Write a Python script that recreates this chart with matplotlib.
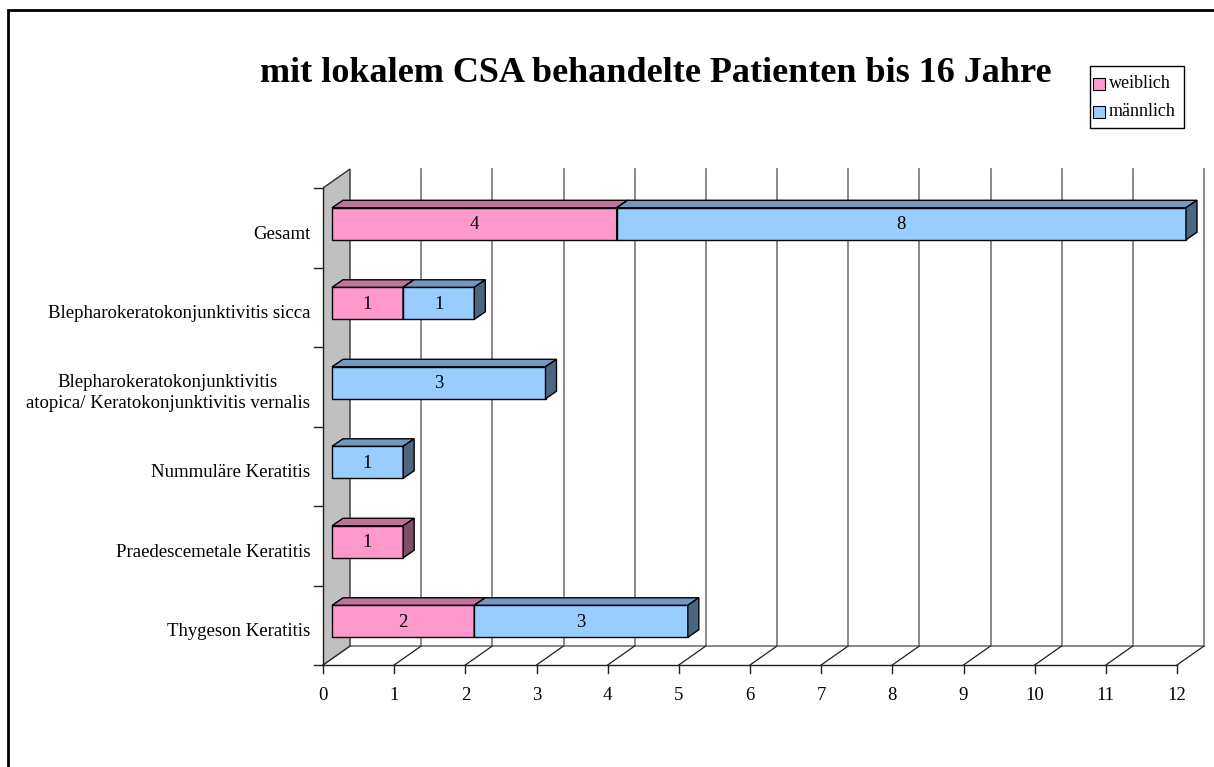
import numpy as np
import matplotlib.pyplot as plt
from matplotlib.patches import Polygon, Rectangle

# data (top of chart first in the picture -> bottom in list order here)
categories = ["Thygeson Keratitis",
              "Praedescemetale Keratitis",
              "Nummuläre Keratitis",
              "Blepharokeratokonjunktivitis\natopica/ Keratokonjunktivitis vernalis",
              "Blepharokeratokonjunktivitis sicca",
              "Gesamt"]
weiblich = [2, 1, 0, 0, 1, 4]
maennlich = [3, 0, 1, 3, 1, 8]
series_names = ["weiblich", "männlich"]
x_ticks = list(range(0, 13))

title = "mit lokalem CSA behandelte Patienten bis 16 Jahre"

plt.rcParams['font.family'] = ['Liberation Serif', 'DejaVu Serif']

W, H = 1214, 767
fig = plt.figure(figsize=(W / 100, H / 100), dpi=100)

# pixel geometry of the front plane
px0, px12 = 323, 1177          # x=0 and x=12 on the front floor edge
py_bot, py_top = 665, 188      # front bottom / top of category range
ux = (px12 - px0) / 12.0
uy = (py_bot - py_top) / 6.0
ax_right, ax_top = 1212, 160
ax = fig.add_axes([px0 / W, (H - py_bot) / H, (ax_right - px0) / W, (py_bot - ax_top) / H])
ax.set_xlim(0, (ax_right - px0) / ux)
ax.set_ylim(0, (py_bot - ax_top) / uy)
ax.axis('off')

# oblique depth (data units)
ddx, ddy = 27 / ux, 19 / uy
xmax = 12
ncat = len(categories)
fs = 13.5

grid_c = '#808080'
# left wall
wall = Polygon([(0, 0), (ddx, ddy), (ddx, ncat + ddy), (0, ncat)], closed=True,
               facecolor='#c0c0c0', edgecolor='#303030', lw=1, zorder=1)
ax.add_patch(wall)
# back wall gridlines
for k in range(1, xmax + 1):
    ax.plot([k + ddx, k + ddx], [ddy, ncat + ddy], color=grid_c, lw=1.3, zorder=0.5)
# floor
ax.plot([ddx, xmax + ddx], [ddy, ddy], color=grid_c, lw=1.3, zorder=0.5)
for k in range(0, xmax + 1):
    ax.plot([k, k + ddx], [0, ddy], color='#202020', lw=0.9, zorder=0.6, clip_on=False)

# axis lines and ticks
ax.plot([0, xmax], [0, 0], color='#202020', lw=1, zorder=2, clip_on=False)
ax.plot([0, 0], [0, ncat], color='#202020', lw=1, zorder=2, clip_on=False)
for k in x_ticks:
    ax.plot([k, k], [0, -8 / uy], color='#202020', lw=1, zorder=2, clip_on=False)
    ax.text(k, -30 / uy, str(k), ha='center', va='center', fontsize=fs, clip_on=False)
for i in range(ncat + 1):
    ax.plot([0, -9 / ux], [i, i], color='#202020', lw=1, zorder=2, clip_on=False)
for i, name in enumerate(categories):
    ax.text(-13 / ux, i + 0.42, name, ha='right', va='center', fontsize=fs,
            multialignment='center', linespacing=1.3, clip_on=False)

# 3d-looking bars
f0 = 9 / 27.0
bdx, bdy = 11 / ux, 7.5 / uy
bh = 32 / uy
colors = [('#ff99cc', '#c0739a', '#804d66'), ('#99ccff', '#7399bf', '#4d6680')]


def draw_bar(x0, w, yc, cols, label):
    xs = x0 + f0 * ddx
    yb = yc - bh / 2
    front, top, side = cols
    ax.add_patch(Rectangle((xs, yb), w, bh, facecolor=front, edgecolor='black', lw=1, zorder=3))
    ax.add_patch(Polygon([(xs, yb + bh), (xs + bdx, yb + bh + bdy), (xs + w + bdx, yb + bh + bdy),
                          (xs + w, yb + bh)], closed=True, facecolor=top, edgecolor='black', lw=1, zorder=3))
    ax.add_patch(Polygon([(xs + w, yb), (xs + w + bdx, yb + bdy), (xs + w + bdx, yb + bh + bdy),
                          (xs + w, yb + bh)], closed=True, facecolor=side, edgecolor='black', lw=1, zorder=3))
    ax.text(xs + w / 2, yc - 0.01, label, ha='center', va='center', fontsize=fs, zorder=4)


for i in range(ncat):
    yc = i + 0.55
    left = 0
    for vals, cols in zip([weiblich, maennlich], colors):
        v = vals[i]
        if v > 0:
            draw_bar(left, v, yc, cols, str(v))
        left += v

# title
fig.text(656 / W, 1 - 73 / H, title, ha='center', va='center', fontsize=26, fontweight='bold')

# legend
lg_x, lg_y, lg_w, lg_h = 1090, 66, 94, 62
fig.patches.append(Rectangle((lg_x / W, 1 - (lg_y + lg_h) / H), lg_w / W, lg_h / H,
                             transform=fig.transFigure, facecolor='white', edgecolor='black', lw=1))
for j, (name, cols) in enumerate(zip(series_names, colors)):
    yy = lg_y + 18 + j * 28
    fig.patches.append(Rectangle(((lg_x + 3) / W, 1 - (yy + 6) / H), 12 / W, 12 / H,
                                 transform=fig.transFigure, facecolor=cols[0], edgecolor='black', lw=0.8))
    fig.text((lg_x + 19) / W, 1 - yy / H, name, ha='left', va='center', fontsize=13)

# outer border
fig.patches.append(Rectangle((8 / W, -0.01), 1.02, 1 - 10 / H + 0.01, transform=fig.transFigure,
                             facecolor='none', edgecolor='black', lw=2))

fig.savefig('out.png', dpi=100)
